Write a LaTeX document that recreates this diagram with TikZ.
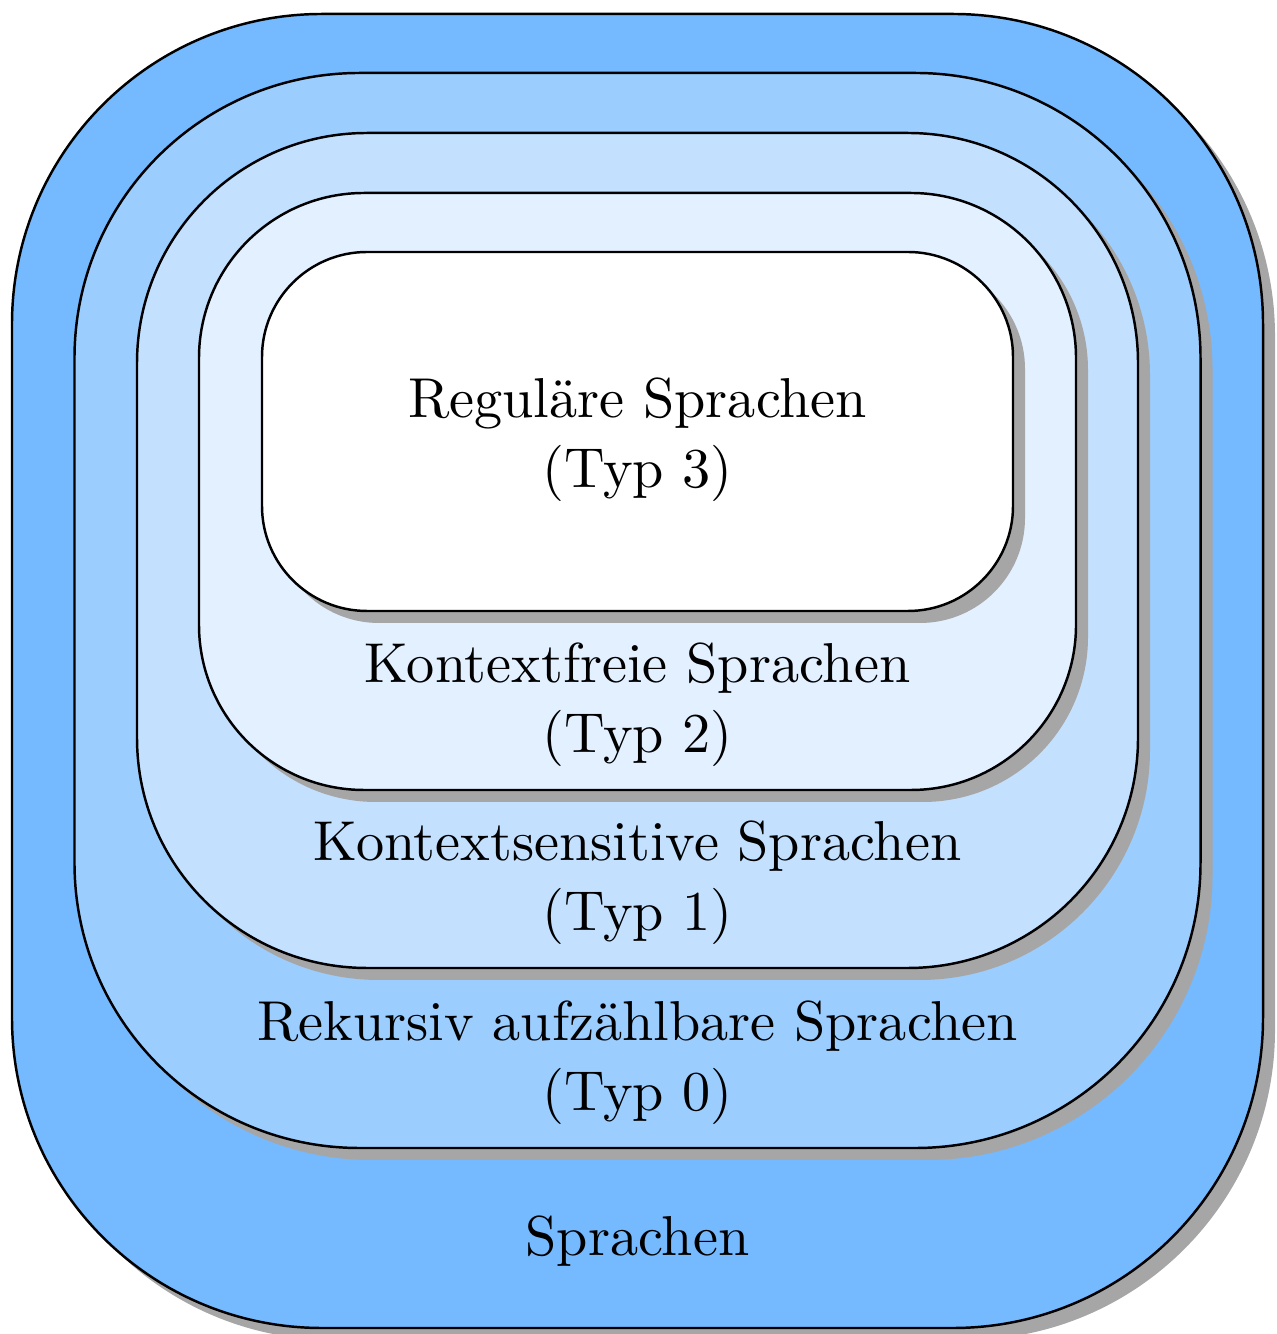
\documentclass[tikz,border=0pt]{standalone}
\usepackage{tikz}
\usetikzlibrary{positioning,shadows}
\definecolor{blueA}{HTML}{75B9FF}
\definecolor{blueB}{HTML}{9BCDFF}
\definecolor{blueC}{HTML}{C3E1FF}
\definecolor{blueD}{HTML}{E2F0FF}
\tikzstyle{langset} = [rectangle, draw=black, line width=0.7pt, drop shadow={shadow xshift=0.12cm, shadow yshift=-0.12cm, fill=black!35, opacity=1}]
\tikzstyle{setlabel} = [inner sep=0pt, text centered, align=center, scale=1.6, font={\fontsize{10}{12.45}\selectfont}]

\begin{document}
\begin{tikzpicture}
\useasboundingbox (0,0) rectangle (12.77,13.34);
\node (sprachen) [langset, fill=blueA, rounded corners=3.1cm, minimum width=12.51cm, minimum height=13.14cm] at (6.375,6.63) {};
\node (typ0) [langset, fill=blueB, rounded corners=2.85cm, minimum width=11.26cm, minimum height=10.75cm] at (6.375,7.235) {};
\node (typ1) [langset, fill=blueC, rounded corners=2.3cm, minimum width=10.01cm, minimum height=8.35cm] at (6.375,7.835) {};
\node (typ2) [langset, fill=blueD, rounded corners=1.65cm, minimum width=8.77cm, minimum height=5.97cm] at (6.375,8.425) {};
\node (typ3) [langset, fill=white, rounded corners=1.05cm, minimum width=7.51cm, minimum height=3.59cm] at (6.375,9.025) {};
\node (ltyp3) [setlabel, above=1.1cm of typ3.south] {Reguläre Sprachen\\(Typ 3)};
\node (ltyp2) [setlabel, above=0.24cm of typ2.south] {Kontextfreie Sprachen\\(Typ 2)};
\node (ltyp1) [setlabel, above=0.24cm of typ1.south] {Kontextsensitive Sprachen\\(Typ 1)};
\node (ltyp0) [setlabel, above=0.24cm of typ0.south] {Rekursiv aufzählbare Sprachen\\(Typ 0)};
\node (lsprachen) [setlabel, above=0.62cm of sprachen.south] {Sprachen};
\end{tikzpicture}
\end{document}
